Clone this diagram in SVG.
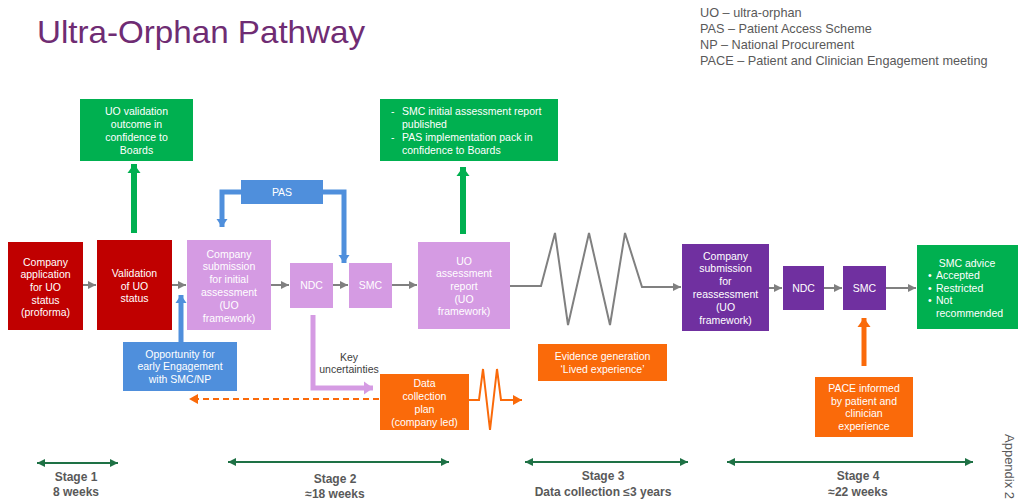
<svg xmlns="http://www.w3.org/2000/svg" width="1019" height="503" viewBox="0 0 1019 503">
<style>
text{font-family:"Liberation Sans",Arial,sans-serif;}
.w{fill:#ffffff;font-size:10.5px;text-anchor:middle;}
.wl{fill:#ffffff;font-size:10.5px;}
.g{fill:#595959;font-size:12.7px;}
.st{fill:#595959;font-size:12px;text-anchor:middle;font-weight:bold;}
.red{fill:#C00000;}
.lp{fill:#D59BE3;}
.dp{fill:#7030A0;}
.gr{fill:#00B050;}
.bl{fill:#4F8FDC;}
.or{fill:#FA6A0A;}
.con{fill:none;stroke:#808080;stroke-width:2;}
</style>
<defs>
<marker id="ag" markerUnits="userSpaceOnUse" markerWidth="9" markerHeight="9" refX="8" refY="4.5" orient="auto"><path d="M0,0.5 L8,4.5 L0,8.5 z" fill="#808080"/></marker>
<marker id="ab" markerUnits="userSpaceOnUse" markerWidth="12" markerHeight="12" refX="8" refY="6" orient="auto"><path d="M0,0.5 L8,6 L0,11.5 z" fill="#4F8FDC"/></marker>
<marker id="ap" markerUnits="userSpaceOnUse" markerWidth="12" markerHeight="14" refX="9" refY="7" orient="auto"><path d="M0,0.5 L9,7 L0,13.5 z" fill="#D59BE3"/></marker>
<marker id="agr" markerUnits="userSpaceOnUse" markerWidth="14" markerHeight="14" refX="9" refY="7" orient="auto"><path d="M0,0.5 L9,7 L0,13.5 z" fill="#00B050"/></marker>
<marker id="ao" markerUnits="userSpaceOnUse" markerWidth="12" markerHeight="12" refX="9" refY="5" orient="auto"><path d="M0,0 L9,5 L0,10 z" fill="#FA6A0A"/></marker>
<marker id="aob" markerUnits="userSpaceOnUse" markerWidth="12" markerHeight="14" refX="9" refY="7" orient="auto"><path d="M0,0.5 L9,7 L0,13.5 z" fill="#FA6A0A"/></marker>
<marker id="as" markerUnits="userSpaceOnUse" markerWidth="10" markerHeight="10" refX="8" refY="4.5" orient="auto-start-reverse"><path d="M0,0.5 L8,4.5 L0,8.5 z" fill="#1E7145"/></marker>
</defs>
<rect width="1019" height="503" fill="#ffffff"/>

<text x="37" y="43" textLength="328" lengthAdjust="spacingAndGlyphs" style="font-size:32px;fill:#6F2C73">Ultra-Orphan Pathway</text>
<g id="legend">
<text class="g" x="700" y="17">UO – ultra-orphan</text>
<text class="g" x="700" y="33">PAS – Patient Access Scheme</text>
<text class="g" x="700" y="49">NP – National Procurement</text>
<text class="g" x="700" y="65">PACE – Patient and Clinician Engagement meeting</text>
</g>

<g id="connectors">
<line class="con" x1="83" y1="285" x2="96" y2="285" marker-end="url(#ag)"/>
<line class="con" x1="172" y1="285" x2="186" y2="285" marker-end="url(#ag)"/>
<line class="con" x1="271" y1="285" x2="289" y2="285" marker-end="url(#ag)"/>
<line class="con" x1="333" y1="285" x2="348" y2="285" marker-end="url(#ag)"/>
<line class="con" x1="392" y1="285" x2="417" y2="285" marker-end="url(#ag)"/>
<polyline class="con" stroke-width="2.5" points="510,286 541,286 555,233 568,325 589,233 610,325 625,233 642,287 681,287" marker-end="url(#ag)"/>
<line class="con" x1="769" y1="288" x2="782" y2="288" marker-end="url(#ag)"/>
<line class="con" x1="824" y1="288" x2="842" y2="288" marker-end="url(#ag)"/>
<line class="con" x1="886" y1="288" x2="916" y2="288" marker-end="url(#ag)"/>
<line x1="134" y1="233" x2="134" y2="164" stroke="#00B050" stroke-width="6" marker-end="url(#agr)"/>
<line x1="463" y1="234" x2="463" y2="167" stroke="#00B050" stroke-width="6" marker-end="url(#agr)"/>
<polyline points="241,192 222,192 222,227" fill="none" stroke="#4F8FDC" stroke-width="5" marker-end="url(#ab)"/>
<polyline points="323,192 344,192 344,263" fill="none" stroke="#4F8FDC" stroke-width="5" marker-end="url(#ab)"/>
<line x1="181" y1="342" x2="181" y2="295" stroke="#4F8FDC" stroke-width="5" marker-end="url(#ab)"/>
<polyline points="313,315 313,388 373,388" fill="none" stroke="#D59BE3" stroke-width="5" marker-end="url(#ap)"/>
<text x="349" y="361" style="font-size:10.5px;fill:#404040;text-anchor:middle">Key</text>
<text x="349" y="373" style="font-size:10.5px;fill:#404040;text-anchor:middle">uncertainties</text>
<line x1="379" y1="399" x2="189" y2="399" stroke="#FA6A0A" stroke-width="2" stroke-dasharray="6,4" marker-end="url(#ao)"/>
<polyline points="469,400 479,400 483,369 490,430 497,369 501,400 522,400" fill="none" stroke="#FA6A0A" stroke-width="2" marker-end="url(#ao)"/>
<line x1="864" y1="366" x2="864" y2="318" stroke="#FA6A0A" stroke-width="5" marker-end="url(#aob)"/>
<line x1="37" y1="463" x2="118" y2="463" stroke="#1E7145" stroke-width="2" marker-start="url(#as)" marker-end="url(#as)"/>
<line x1="228" y1="462" x2="449" y2="462" stroke="#1E7145" stroke-width="2" marker-start="url(#as)" marker-end="url(#as)"/>
<line x1="525" y1="462" x2="688" y2="462" stroke="#1E7145" stroke-width="2" marker-start="url(#as)" marker-end="url(#as)"/>
<line x1="727" y1="462" x2="973" y2="462" stroke="#1E7145" stroke-width="2" marker-start="url(#as)" marker-end="url(#as)"/>
</g>

<g id="n-app">
<rect class="red" x="8" y="242" width="75" height="88"/>
<text class="w" x="45.5" y="266">Company</text>
<text class="w" x="45.5" y="278">application</text>
<text class="w" x="45.5" y="291">for UO</text>
<text class="w" x="45.5" y="304">status</text>
<text class="w" x="45.5" y="316">(proforma)</text>
</g>
<g id="n-valid">
<rect class="red" x="97" y="240" width="75" height="90"/>
<text class="w" x="134.5" y="277">Validation</text>
<text class="w" x="134.5" y="290">of UO</text>
<text class="w" x="134.5" y="302">status</text>
</g>
<g id="n-outcome">
<rect class="gr" x="80" y="99" width="113" height="62"/>
<text class="w" x="136.5" y="115">UO validation</text>
<text class="w" x="136.5" y="128">outcome in</text>
<text class="w" x="136.5" y="141">confidence to</text>
<text class="w" x="136.5" y="154">Boards</text>
</g>
<g id="n-sub">
<rect class="lp" x="187" y="240" width="84" height="90"/>
<text class="w" x="229" y="258">Company</text>
<text class="w" x="229" y="270">submission</text>
<text class="w" x="229" y="283">for initial</text>
<text class="w" x="229" y="296">assessment</text>
<text class="w" x="229" y="309">(UO</text>
<text class="w" x="229" y="322">framework)</text>
</g>
<g id="n-pas">
<rect class="bl" x="241" y="180" width="82" height="24"/>
<text class="w" x="282" y="196">PAS</text>
</g>
<g id="n-ndc1">
<rect class="lp" x="290" y="263" width="43" height="45"/>
<text class="w" x="311.5" y="289">NDC</text>
</g>
<g id="n-smc1">
<rect class="lp" x="349" y="263" width="43" height="45"/>
<text class="w" x="370.5" y="289">SMC</text>
</g>
<g id="n-report">
<rect class="lp" x="418" y="242" width="92" height="87"/>
<text class="w" x="464" y="265">UO</text>
<text class="w" x="464" y="277">assessment</text>
<text class="w" x="464" y="290">report</text>
<text class="w" x="464" y="303">(UO</text>
<text class="w" x="464" y="315">framework)</text>
</g>
<g id="n-published">
<rect class="gr" x="380" y="99" width="178" height="62"/>
<text class="wl" x="391" y="115">-</text>
<text class="wl" x="402" y="115">SMC initial assessment report</text>
<text class="wl" x="402" y="128">published</text>
<text class="wl" x="391" y="141">-</text>
<text class="wl" x="402" y="141">PAS implementation pack in</text>
<text class="wl" x="402" y="154">confidence to Boards</text>
</g>
<g id="n-opp">
<rect class="bl" x="123" y="342" width="114" height="49"/>
<text class="w" x="180" y="358">Opportunity for</text>
<text class="w" x="180" y="370">early Engagement</text>
<text class="w" x="180" y="383">with SMC/NP</text>
</g>
<g id="n-data">
<rect class="or" x="380" y="374" width="89" height="56"/>
<text class="w" x="424.5" y="387">Data</text>
<text class="w" x="424.5" y="400">collection</text>
<text class="w" x="424.5" y="413">plan</text>
<text class="w" x="424.5" y="426">(company led)</text>
</g>
<g id="n-evidence">
<rect class="or" x="538" y="344" width="129" height="37"/>
<text class="w" x="602.5" y="360">Evidence generation</text>
<text class="w" x="602.5" y="373">‘Lived experience’</text>
</g>
<g id="n-resub">
<rect class="dp" x="682" y="244" width="87" height="87"/>
<text class="w" x="725.5" y="260">Company</text>
<text class="w" x="725.5" y="272">submission</text>
<text class="w" x="725.5" y="285">for</text>
<text class="w" x="725.5" y="298">reassessment</text>
<text class="w" x="725.5" y="311">(UO</text>
<text class="w" x="725.5" y="324">framework)</text>
</g>
<g id="n-ndc2">
<rect class="dp" x="783" y="266" width="41" height="44"/>
<text class="w" x="803.5" y="292">NDC</text>
</g>
<g id="n-smc2">
<rect class="dp" x="843" y="266" width="43" height="44"/>
<text class="w" x="864.5" y="292">SMC</text>
</g>
<g id="n-advice">
<rect class="gr" x="917" y="245" width="101" height="84"/>
<text class="w" x="967" y="267">SMC advice</text>
<text class="wl" x="928" y="279">•</text>
<text class="wl" x="936" y="279">Accepted</text>
<text class="wl" x="928" y="292">•</text>
<text class="wl" x="936" y="292">Restricted</text>
<text class="wl" x="928" y="304">•</text>
<text class="wl" x="936" y="304">Not</text>
<text class="wl" x="936" y="317">recommended</text>
</g>
<g id="n-pace">
<rect class="or" x="815" y="377" width="98" height="60"/>
<text class="w" x="864" y="392">PACE informed</text>
<text class="w" x="864" y="405">by patient and</text>
<text class="w" x="864" y="417">clinician</text>
<text class="w" x="864" y="430">experience</text>
</g>

<g id="stages">
<text class="st" x="76" y="481">Stage 1</text>
<text class="st" x="76" y="496">8 weeks</text>
<text class="st" x="335" y="483">Stage 2</text>
<text class="st" x="335" y="498">≈18 weeks</text>
<text class="st" x="603" y="480">Stage 3</text>
<text class="st" x="603" y="496">Data collection ≤3 years</text>
<text class="st" x="858" y="480">Stage 4</text>
<text class="st" x="858" y="496">≈22 weeks</text>
</g>
<text x="1005" y="434" transform="rotate(90 1005 434)" style="font-size:13px;fill:#595959">Appendix 2</text>
</svg>
